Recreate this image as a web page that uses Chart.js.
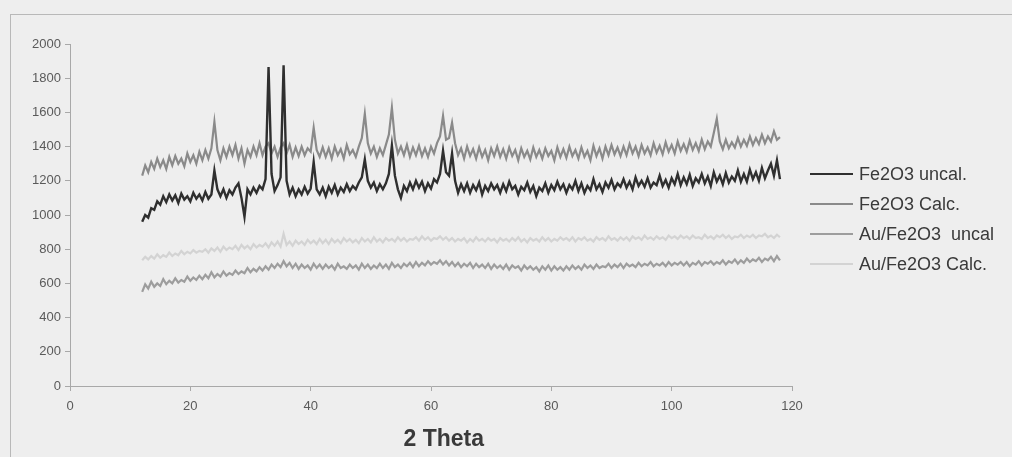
<!DOCTYPE html>
<html>
<head>
<meta charset="utf-8">
<title>XRD patterns</title>
<script src="https://cdn.jsdelivr.net/npm/chart.js@4.4.1/dist/chart.umd.min.js"></script>
<style>
  body { margin: 0; background: #eeeeee; }
  #wrap { position: relative; width: 1012px; height: 457px; overflow: hidden; }
  #frame { position: absolute; left: 10px; top: 14px; right: 0; bottom: 0;
           border-left: 1px solid #b8b8b8; border-top: 1px solid #b8b8b8; }
  #legend { position: absolute; left: 810px; top: 159px;
            font-family: "Liberation Sans", Arial, sans-serif; font-size: 18px; color: #3a3a3a; }
  .item { display: flex; align-items: center; height: 30px; white-space: pre; }
  .swatch { width: 43px; height: 0; border-top: 2px solid; margin-right: 6px; }
  canvas { position: absolute; left: 0; top: 0; }
</style>
</head>
<body>
<div id="wrap">
  <div id="frame"></div>
  <canvas id="xrdChart" width="1012" height="457"></canvas>
  <div id="legend"></div>
</div>
<script>
// 2 Theta sampling of the scans (degrees)
const thetaStart = 12;
const thetaStep = 0.5;

const xTicks = [0, 20, 40, 60, 80, 100, 120];
const yTicks = [0, 200, 400, 600, 800, 1000, 1200, 1400, 1600, 1800, 2000];

const seriesNames = ['Fe2O3 uncal.', 'Fe2O3 Calc.', 'Au/Fe2O3  uncal', 'Au/Fe2O3 Calc.'];

// intensities, one value every 0.5 deg from 12 to 118
const fe2o3Uncal = [
  960,1000,985,1040,1030,1080,1060,1110,1075,1120,1085,1115,1070,1125,1090,1110,1080,1130,1095,1120,
  1085,1135,1095,1120,1260,1150,1110,1150,1100,1145,1120,1160,1185,1100,990,1150,1120,1160,1130,1170,
  1150,1210,1865,1240,1140,1175,1220,1875,1200,1120,1160,1110,1150,1120,1165,1125,1155,1310,1150,1120,
  1160,1110,1165,1130,1175,1120,1160,1135,1180,1140,1170,1150,1190,1220,1325,1200,1160,1190,1140,1180,
  1150,1185,1240,1405,1230,1150,1100,1170,1140,1190,1150,1200,1160,1195,1140,1185,1155,1210,1190,1240,
  1376,1250,1230,1359,1200,1130,1180,1140,1185,1130,1175,1145,1190,1120,1170,1140,1185,1150,1175,1130,
  1180,1140,1195,1150,1170,1120,1165,1145,1190,1135,1170,1110,1160,1140,1185,1130,1175,1145,1195,1150,
  1180,1130,1175,1150,1200,1140,1185,1130,1170,1145,1210,1150,1180,1135,1190,1160,1205,1150,1185,1165,
  1210,1160,1195,1150,1220,1170,1200,1165,1215,1160,1190,1175,1230,1170,1205,1160,1215,1180,1240,1175,
  1220,1180,1235,1170,1215,1190,1240,1185,1225,1170,1250,1195,1230,1180,1245,1190,1225,1200,1260,1195,
  1240,1195,1265,1210,1250,1200,1275,1215,1260,1300,1230,1320,1210
];

const fe2o3Calc = [
  1230,1290,1250,1310,1270,1330,1280,1320,1270,1340,1290,1345,1300,1330,1285,1360,1310,1350,1300,1370,
  1320,1380,1330,1390,1545,1380,1320,1390,1340,1400,1350,1410,1330,1390,1300,1380,1340,1400,1350,1420,
  1350,1400,1420,1360,1400,1340,1395,1420,1360,1410,1340,1395,1345,1400,1350,1390,1370,1510,1380,1340,
  1395,1340,1390,1330,1400,1350,1385,1330,1410,1355,1380,1340,1400,1450,1592,1420,1360,1400,1340,1390,
  1350,1410,1470,1627,1440,1360,1400,1350,1410,1340,1395,1350,1405,1345,1390,1340,1400,1360,1420,1460,
  1580,1440,1450,1540,1420,1350,1390,1330,1400,1345,1385,1330,1395,1340,1380,1320,1390,1345,1400,1340,
  1385,1330,1395,1345,1380,1320,1390,1340,1375,1325,1395,1340,1380,1330,1390,1345,1375,1320,1395,1340,
  1385,1335,1400,1345,1380,1330,1395,1340,1375,1320,1405,1345,1390,1330,1400,1350,1410,1355,1395,1345,
  1400,1350,1415,1360,1400,1345,1410,1360,1395,1350,1420,1365,1405,1355,1425,1370,1410,1360,1430,1375,
  1415,1370,1435,1380,1420,1375,1440,1385,1430,1400,1480,1563,1430,1385,1440,1390,1425,1395,1450,1400,
  1440,1405,1460,1410,1450,1415,1470,1420,1460,1430,1490,1440,1455
];

const auFe2o3Uncal = [
  550,595,570,610,580,600,585,625,595,615,600,630,605,620,610,640,615,635,620,645,
  625,650,630,665,635,655,640,670,645,660,650,675,655,670,660,690,665,685,670,695,
  675,700,680,710,690,715,695,730,700,720,690,715,685,710,690,705,680,715,690,710,
  685,710,690,705,680,715,690,700,685,710,690,705,680,715,690,710,685,705,690,715,
  690,710,685,720,695,710,690,715,700,720,695,725,700,720,705,730,710,725,715,735,
  710,730,705,725,700,720,695,715,700,720,690,715,695,710,690,715,685,710,690,705,
  685,710,680,705,690,700,675,705,685,700,680,695,670,700,680,705,675,700,680,695,
  675,700,680,705,685,700,680,710,690,705,685,710,690,700,695,715,690,710,695,715,
  690,715,700,710,695,720,700,715,705,725,700,715,705,720,700,725,705,720,710,725,
  705,725,700,720,710,730,705,725,715,730,710,725,715,735,710,730,720,740,715,735,
  720,745,725,740,730,750,725,745,735,755,730,760,735
];

const auFe2o3Calc = [
  735,755,740,760,745,770,750,765,755,780,760,775,765,790,770,785,775,795,780,790,
  785,800,780,805,790,810,785,815,795,810,800,820,795,825,805,820,800,830,810,825,
  815,835,810,840,820,845,815,890,825,845,820,850,830,845,825,855,835,850,830,860,
  835,855,830,860,840,855,835,865,845,860,840,855,835,865,845,860,840,870,845,860,
  840,865,850,860,845,870,850,865,845,860,855,870,850,875,855,870,850,865,860,875,
  855,870,850,865,845,860,850,865,840,860,845,870,850,860,845,865,850,860,840,865,
  850,860,845,865,850,870,845,860,840,865,850,860,845,870,850,865,845,860,850,870,
  855,865,850,870,845,865,855,870,850,860,845,870,855,865,850,875,855,865,850,870,
  855,870,850,875,860,870,855,880,860,870,855,875,860,870,855,880,865,875,860,880,
  865,875,860,880,865,870,860,885,865,875,860,880,870,885,865,880,860,875,870,885,
  865,880,870,885,865,880,875,890,870,880,865,885,870
];

const seriesValues = [fe2o3Uncal, fe2o3Calc, auFe2o3Uncal, auFe2o3Calc];
const seriesColors = ['#2f2f2f', '#8a8a8a', '#9d9d9d', '#d3d3d3'];
const seriesWidths = [2.4, 2.2, 2.2, 2.2];

function toPoints(values) {
  return values.map((v, i) => ({ x: thetaStart + i * thetaStep, y: v }));
}

const tickFont = { family: '"Liberation Sans", Arial, sans-serif', size: 13 };

const ctx = document.getElementById('xrdChart').getContext('2d');
const xrdChart = new Chart(ctx, {
  type: 'line',
  data: {
    datasets: seriesNames.map((name, i) => ({
      label: name,
      data: toPoints(seriesValues[i]),
      borderColor: seriesColors[i],
      borderWidth: seriesWidths[i],
      pointRadius: 0,
      tension: 0,
      fill: false
    }))
  },
  options: {
    responsive: false,
    animation: false,
    layout: { padding: { left: 0, top: 44, right: 220, bottom: 0 } },
    plugins: {
      legend: { display: false },
      tooltip: { enabled: false }
    },
    scales: {
      x: {
        type: 'linear',
        min: 0,
        max: 120,
        afterBuildTicks: scale => { scale.ticks = xTicks.map(v => ({ value: v })); },
        afterFit: scale => { scale.height = 71; },
        ticks: { color: '#5a5a5a', font: tickFont, padding: 8, maxRotation: 0,
                 callback: v => String(v) },
        grid: { drawOnChartArea: false, drawTicks: true, tickLength: 5, color: '#a8a8a8' },
        border: { display: true, color: '#a8a8a8' },
        title: {
          display: true,
          text: '    2 Theta',
          color: '#3a3a3a',
          font: { family: '"Liberation Sans", Arial, sans-serif', size: 23, weight: 'bold' },
          padding: { top: 0, bottom: 4 }
        }
      },
      y: {
        min: 0,
        max: 2000,
        afterBuildTicks: scale => { scale.ticks = yTicks.map(v => ({ value: v })); },
        afterFit: scale => { scale.width = 70; },
        ticks: { color: '#5a5a5a', font: tickFont, padding: 4,
                 callback: v => String(v) },
        grid: { drawOnChartArea: false, drawTicks: true, tickLength: 5, color: '#a8a8a8' },
        border: { display: true, color: '#a8a8a8' }
      }
    }
  }
});

// legend on the right, built from the datasets
const legendBox = document.getElementById('legend');
xrdChart.data.datasets.forEach(ds => {
  const item = document.createElement('div');
  item.className = 'item';
  const swatch = document.createElement('span');
  swatch.className = 'swatch';
  swatch.style.borderTopColor = ds.borderColor;
  item.appendChild(swatch);
  item.appendChild(document.createTextNode(ds.label));
  legendBox.appendChild(item);
});
</script>
</body>
</html>
